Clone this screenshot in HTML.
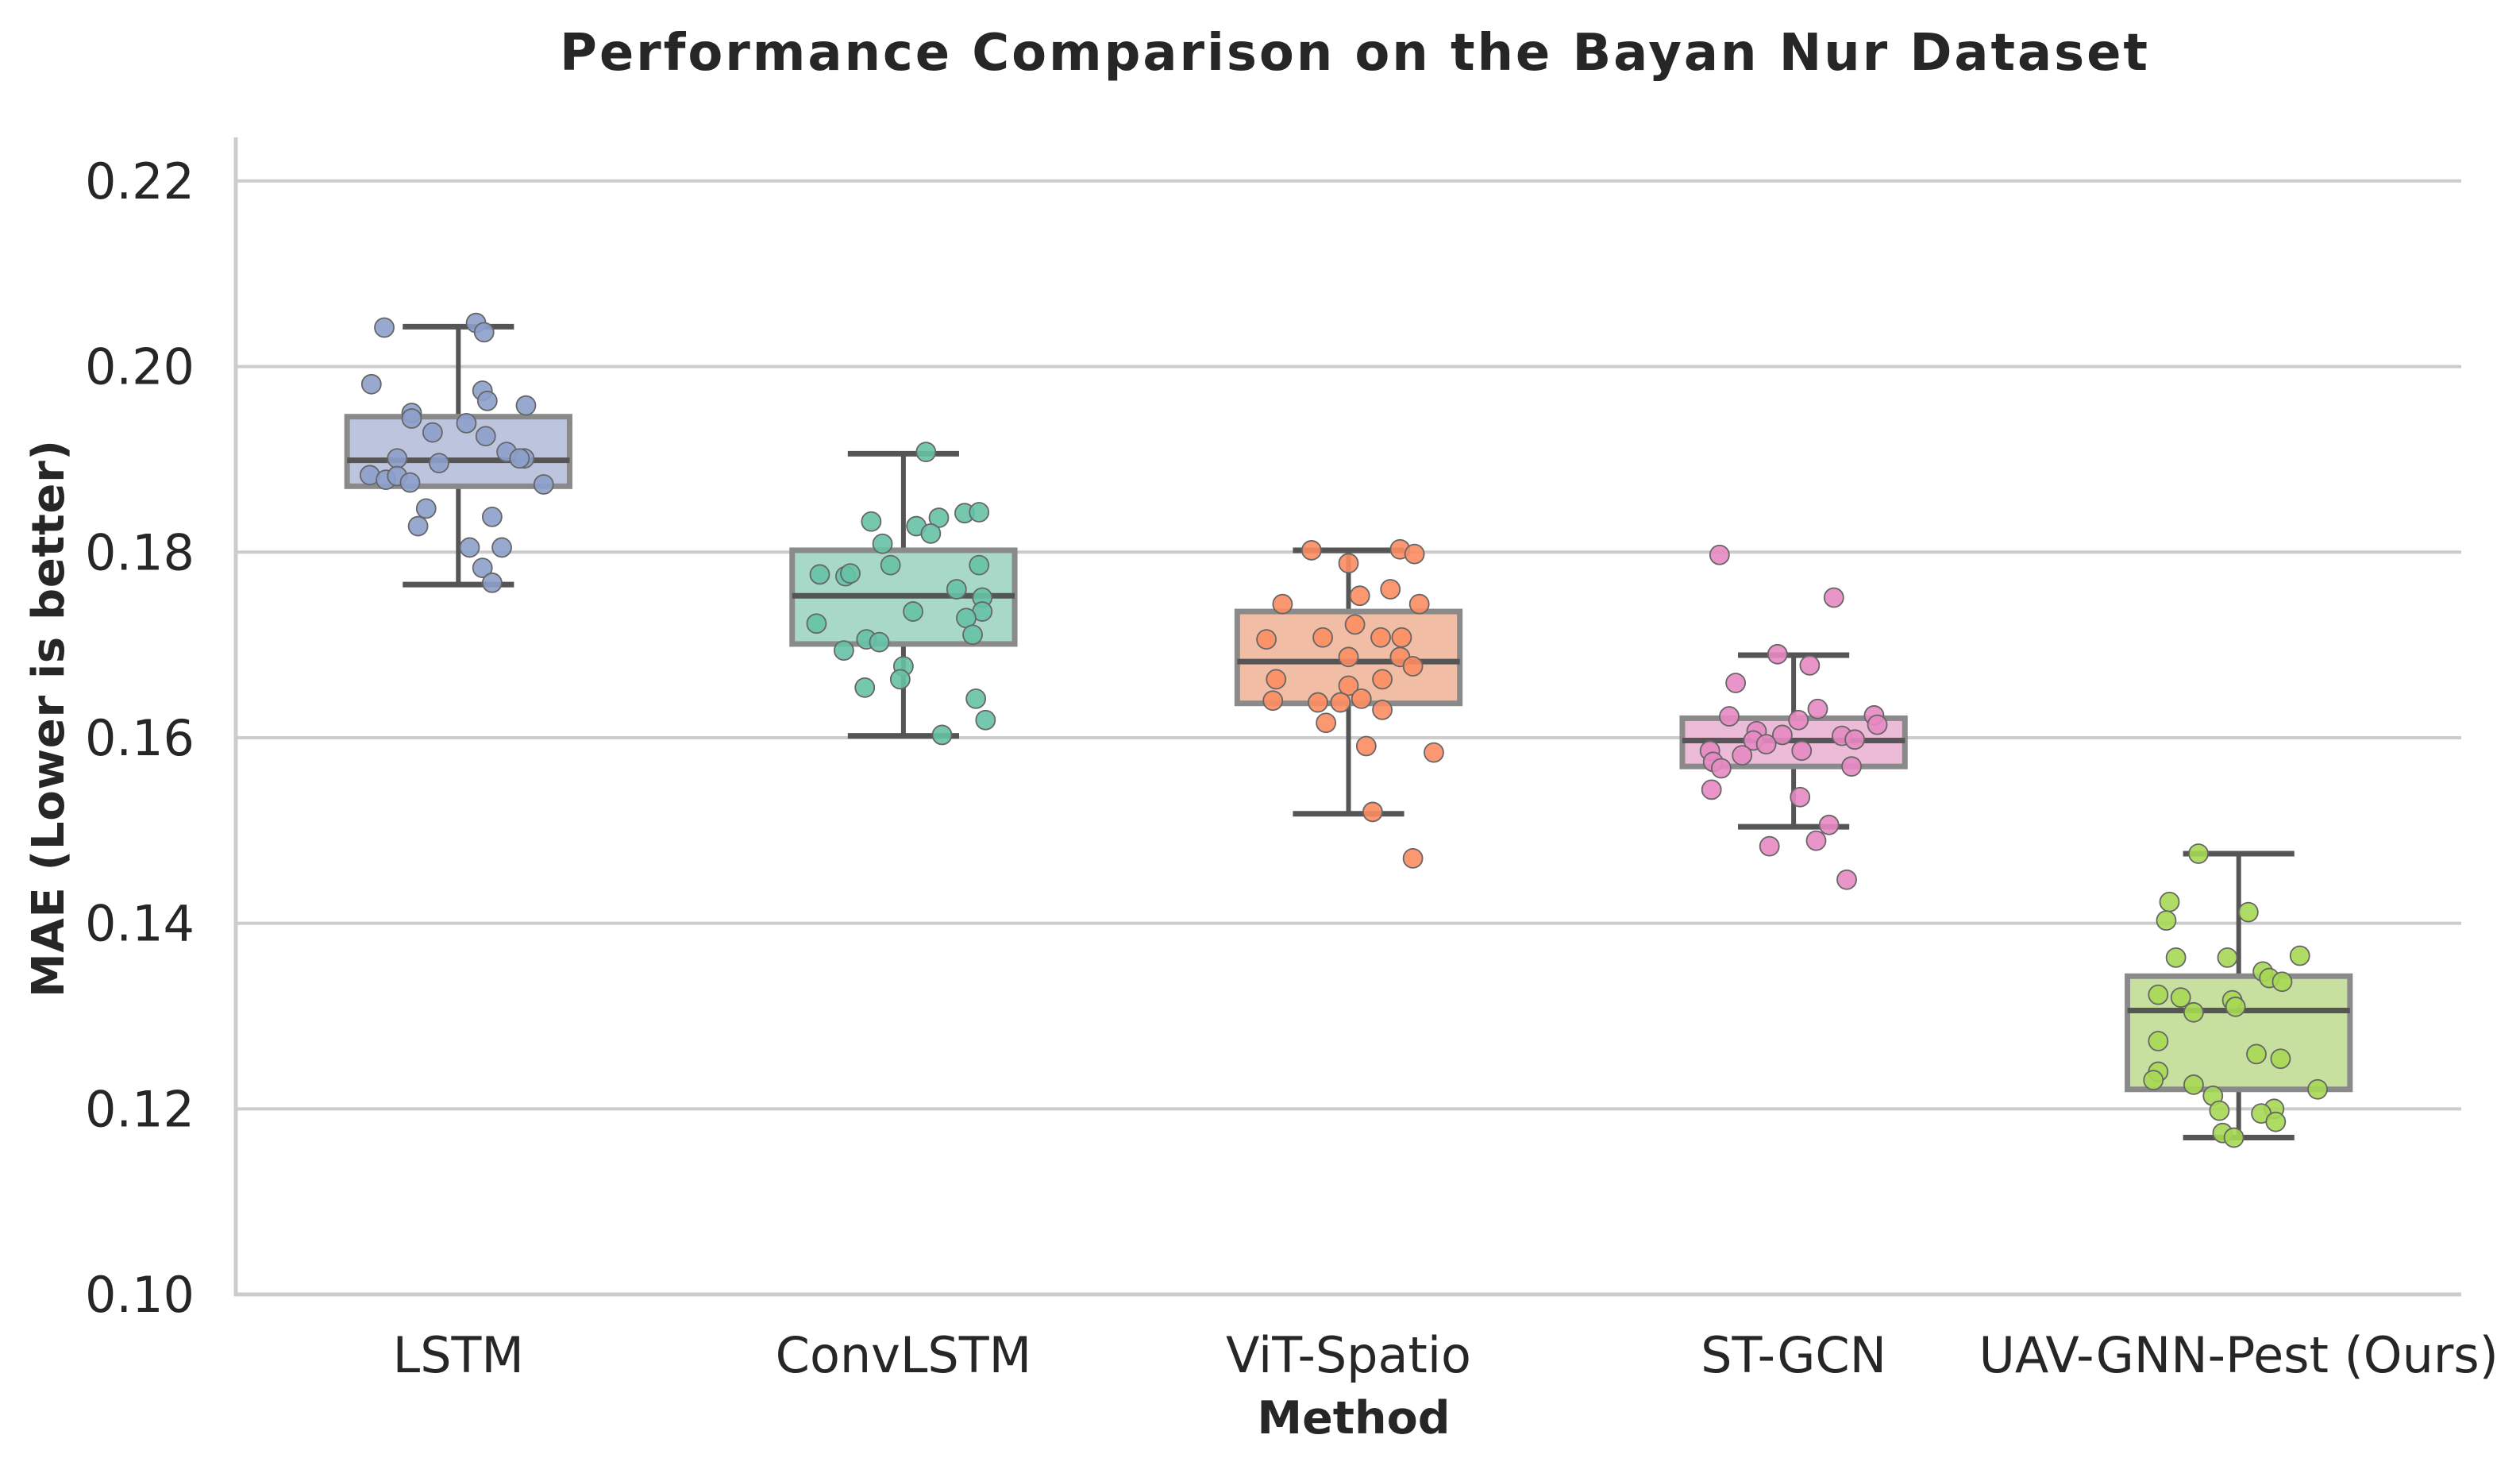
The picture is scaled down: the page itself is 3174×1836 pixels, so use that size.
<!DOCTYPE html>
<html><head><meta charset="utf-8"><style>
html,body{margin:0;padding:0;background:#fff;}
svg{display:block;font-family:"DejaVu Sans","Liberation Sans",sans-serif;}
</style></head><body>
<svg id="chart" width="3174" height="1836" viewBox="0 0 3174 1836">
<text x="1705" y="88" text-anchor="middle" font-size="64" font-weight="bold" fill="#262626" textLength="2000">Performance Comparison on the Bayan Nur Dataset</text>
<g id="grid"></g><g id="boxes"></g><g id="pts"></g><g id="axes"></g>
<text x="1705" y="1805" text-anchor="middle" font-size="57" font-weight="bold" fill="#262626">Method</text>
<text transform="translate(80,905) rotate(-90)" text-anchor="middle" font-size="56" font-weight="bold" fill="#262626" textLength="702">MAE (Lower is better)</text>
</svg>
<script>
const categories=["LSTM","ConvLSTM","ViT-Spatio","ST-GCN","UAV-GNN-Pest (Ours)"];
const colors=["#8da0cb","#66c2a5","#fc8d62","#e78ac3","#a6d854"];
const fills=["#bcc5dd","#a8d9c8","#f2bda5","#ecbbd8","#c7e0a0"];
const q1=[0.1871,0.1701,0.1637,0.1569,0.1221];
const q3=[0.1946,0.1802,0.1736,0.1621,0.1343];
const med=[0.1899,0.1753,0.1682,0.1597,0.1306];
const whiskLo=[0.1765,0.1602,0.1518,0.1504,0.1169];
const whiskHi=[0.2043,0.1906,0.1802,0.1689,0.1475];
const yTicks=[0.10,0.12,0.14,0.16,0.18,0.20,0.22];
const yTickLabels=["0.10","0.12","0.14","0.16","0.18","0.20","0.22"];
const jitterLSTM=[-46,11,16,-54,15,18,42,-29,-29,5,-16,17,30,41,38,-38,-12,-55,-45,-38,-30,53,-20,21,-25,7,27,15,21];
const valsLSTM=[0.2042,0.2047,0.2037,0.1981,0.1974,0.1963,0.1958,0.1950,0.1944,0.1939,0.1929,0.1925,0.1908,0.1901,0.1901,0.1901,0.1896,0.1883,0.1878,0.1882,0.1875,0.1873,0.1847,0.1838,0.1828,0.1805,0.1805,0.1783,0.1767];
const jitterConv=[14,-20,8,22,38,47,17,-13,-8,47,-52,-36,-33,33,49,49,6,39,-54,43,-23,-15,-37,0,-2,-24,45,51,24];
const valsConv=[0.1908,0.1833,0.1828,0.1837,0.1842,0.1843,0.1820,0.1809,0.1786,0.1786,0.1776,0.1774,0.1777,0.1760,0.1751,0.1736,0.1736,0.1729,0.1723,0.1711,0.1706,0.1703,0.1694,0.1677,0.1663,0.1654,0.1642,0.1619,0.1603];
const jitterViT=[-23,32,41,0,26,7,-41,44,4,-51,-16,20,33,0,32,40,-45,21,0,-47,-19,-5,8,21,-14,11,53,15,40];
const valsViT=[0.1802,0.1803,0.1798,0.1788,0.1760,0.1753,0.1744,0.1744,0.1722,0.1706,0.1708,0.1708,0.1708,0.1687,0.1687,0.1677,0.1663,0.1663,0.1656,0.1640,0.1638,0.1638,0.1642,0.1630,0.1616,0.1591,0.1584,0.1520,0.1470];
const jitterGCN=[-46,25,-10,10,-36,15,-40,3,50,52,-23,-7,30,38,-25,-17,5,-52,-32,-50,-45,36,-51,4,22,14,-15,33];
const valsGCN=[0.1797,0.1751,0.1690,0.1678,0.1659,0.1631,0.1623,0.1619,0.1624,0.1614,0.1607,0.1603,0.1602,0.1598,0.1597,0.1593,0.1586,0.1586,0.1581,0.1574,0.1567,0.1569,0.1544,0.1536,0.1506,0.1489,0.1483,0.1447];
const jitterUAV=[-25,-43,-45,6,-39,-7,38,15,19,27,-50,-36,-4,-2,-28,-50,11,26,-50,-53,-28,49,-16,-12,22,14,23,-10,-3];
const valsUAV=[0.1475,0.1423,0.1403,0.1412,0.1363,0.1363,0.1365,0.1348,0.1341,0.1337,0.1323,0.1320,0.1317,0.1310,0.1304,0.1273,0.1259,0.1254,0.1240,0.1231,0.1226,0.1221,0.1214,0.1198,0.1200,0.1195,0.1186,0.1174,0.1169];
const jitters=[jitterLSTM,jitterConv,jitterViT,jitterGCN,jitterUAV];
const values=[valsLSTM,valsConv,valsViT,valsGCN,valsUAV];

const NS="http://www.w3.org/2000/svg";
const L=297,R=3100,T=173,B=1630,yMin=0.10,yMax=0.2247;
const bw=(R-L)/categories.length;
const x=i=>L+bw*(i+0.5);
const y=v=>B-(v-yMin)/(yMax-yMin)*(B-T);
function mk(tag,attrs,parent){const e=document.createElementNS(NS,tag);for(const k in attrs)e.setAttribute(k,attrs[k]);document.getElementById(parent).appendChild(e);return e;}

yTicks.forEach((t,i)=>{
  if(i>0){const g=mk('line',{x1:L,x2:R,y1:y(t),y2:y(t),stroke:'#cccccc','stroke-width':4},'grid');
  
  }
  const tx=mk('text',{x:245,y:y(t)+22,'text-anchor':'end','font-size':62,fill:'#262626'},'axes');
  tx.textContent=yTickLabels[i];
  
  
});
const sp1=mk('line',{x1:L,x2:L,y1:T,y2:B+2,stroke:'#cccccc','stroke-width':5},'axes');


const sp2=mk('line',{x1:L-2,x2:R,y1:B,y2:B,stroke:'#cccccc','stroke-width':5},'axes');



categories.forEach((c,i)=>{
  const cx=x(i),hw=bw*0.25,cw=bw*0.125;
  const wl=mk('line',{x1:cx,x2:cx,y1:y(whiskHi[i]),y2:y(whiskLo[i]),stroke:'#555','stroke-width':6},'boxes');
  
  
  [whiskHi[i],whiskLo[i]].forEach(v=>{
    const cp=mk('line',{x1:cx-cw,x2:cx+cw,y1:y(v),y2:y(v),stroke:'#555','stroke-width':7},'boxes');
    
    
  });
  const bx=mk('rect',{x:cx-hw,y:y(q3[i]),width:2*hw,height:y(q1[i])-y(q3[i]),fill:fills[i],stroke:'#8a8a8a','stroke-width':7},'boxes');
  
  
  const md=mk('line',{x1:cx-hw,x2:cx+hw,y1:y(med[i]),y2:y(med[i]),stroke:'#555','stroke-width':7},'boxes');
  
  
  values[i].forEach((v,j)=>{
    const p=mk('circle',{cx:cx+jitters[i][j]/276.5*bw,cy:y(v),r:12,fill:colors[i],'fill-opacity':0.9,stroke:'#666','stroke-width':1.8},'pts');
    
    
  });
  const lb=mk('text',{x:cx,y:1728,'text-anchor':'middle','font-size':62,fill:'#262626'},'axes');
  lb.textContent=c;
  
  
});
</script>
</body></html>
